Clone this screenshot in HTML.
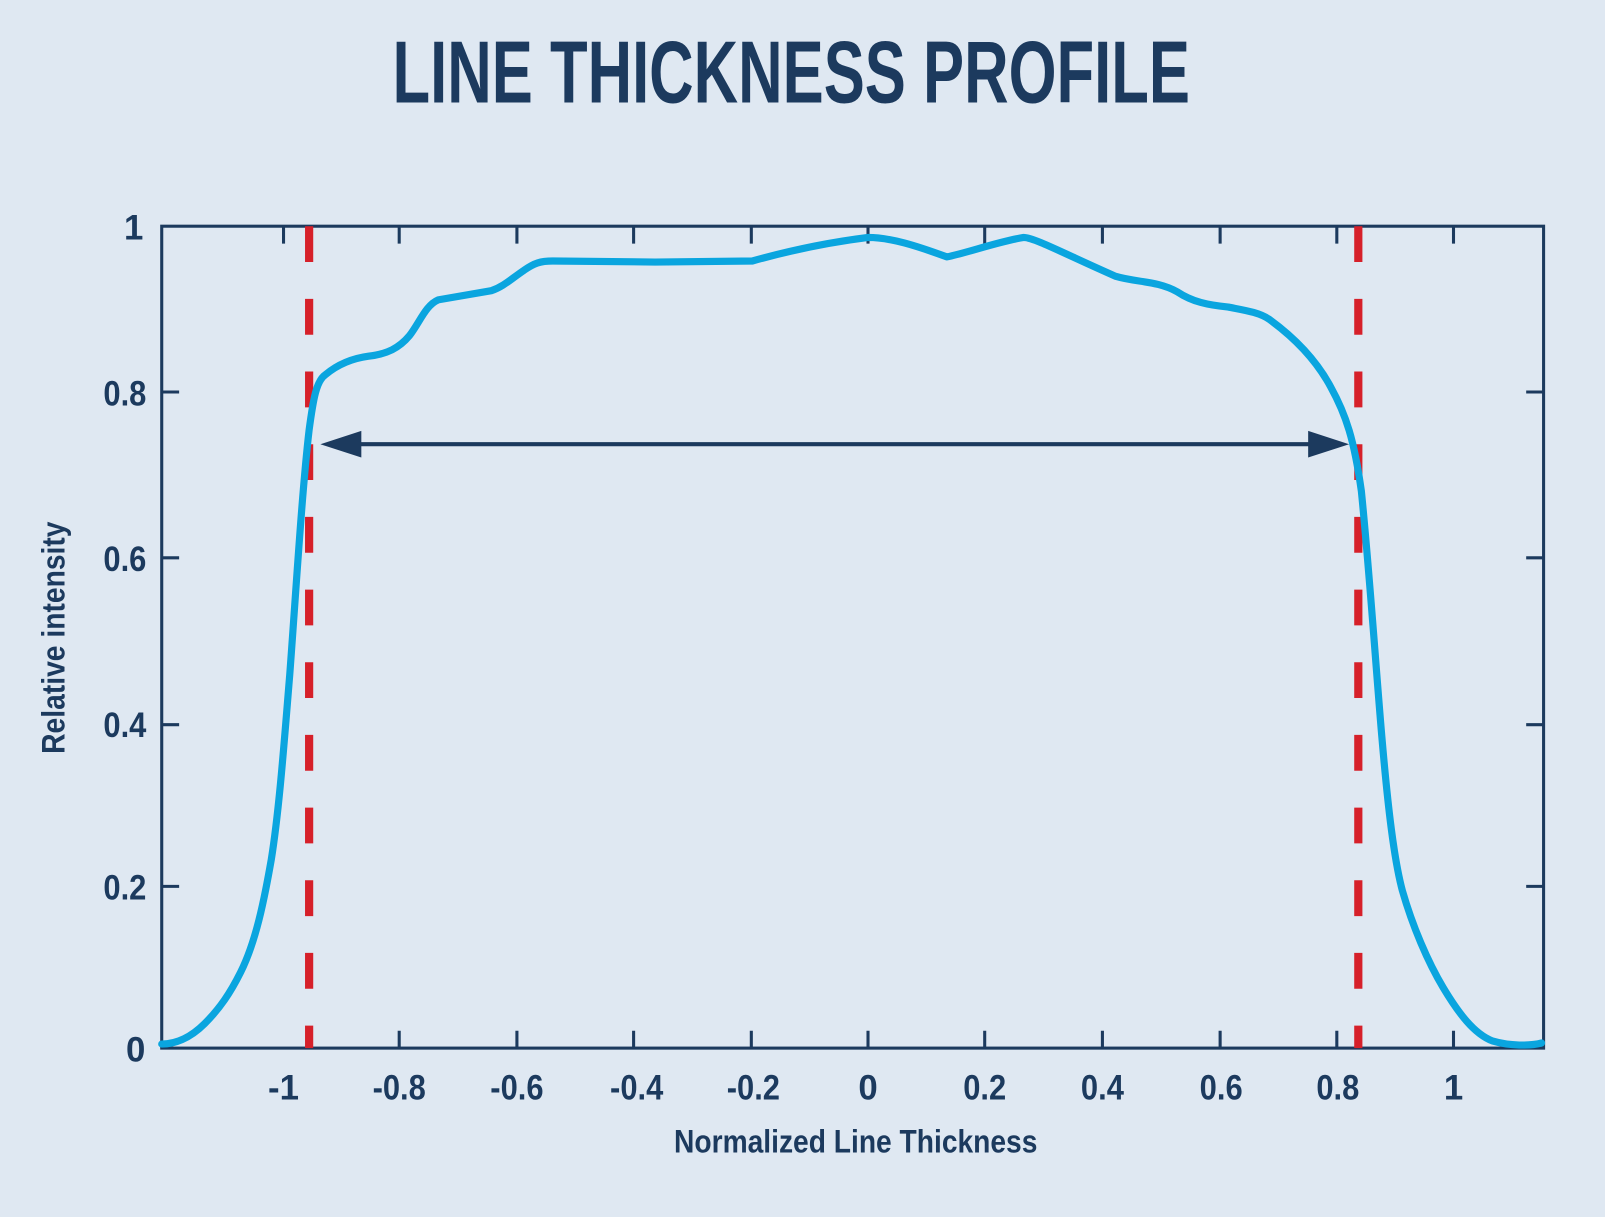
<!DOCTYPE html>
<html><head><meta charset="utf-8"><style>
html,body{margin:0;padding:0;background:#dfe8f2;}
svg{display:block}
text{font-family:"Liberation Sans",sans-serif;font-weight:bold;fill:#1c3a5e}
</style></head><body>
<svg width="1605" height="1217" viewBox="0 0 1568 1189" preserveAspectRatio="none">
<rect width="1568" height="1189" fill="#dfe8f2"/>
<text x="773" y="100" font-size="86" text-anchor="middle" textLength="779" lengthAdjust="spacingAndGlyphs">LINE THICKNESS PROFILE</text>
<rect x="158" y="221" width="1350" height="803" fill="none" stroke="#1c3a5e" stroke-width="3"/>
<g stroke="#1c3a5e" stroke-width="3">
<path d="M390 1024v-17M505 1024v-17M619 1024v-17M734 1024v-17M848 1024v-17M962 1024v-17M1077 1024v-17M1192 1024v-17M1306 1024v-17M1420 1024v-17"/>
<path d="M390 221v17M505 221v17M619 221v17M734 221v17M848 221v17M962 221v17M1077 221v17M1192 221v17M1306 221v17M1420 221v17M277 221v17"/>
<path d="M158 383h17M158 545h17M158 708h17M158 866h17M1508 383h-17M1508 545h-17M1508 708h-17M1508 866h-17"/>
</g>
<g font-size="34" text-anchor="end">
<text x="142" y="1037">0</text>
<text x="143" y="879" textLength="42" lengthAdjust="spacingAndGlyphs">0.2</text>
<text x="143" y="720" textLength="42" lengthAdjust="spacingAndGlyphs">0.4</text>
<text x="143" y="558" textLength="42" lengthAdjust="spacingAndGlyphs">0.6</text>
<text x="143" y="396" textLength="42" lengthAdjust="spacingAndGlyphs">0.8</text>
<text x="140" y="234">1</text>
</g>
<g font-size="34" text-anchor="middle">
<text x="277" y="1074">-1</text>
<text x="390" y="1074" textLength="52" lengthAdjust="spacingAndGlyphs">-0.8</text>
<text x="505" y="1074" textLength="52" lengthAdjust="spacingAndGlyphs">-0.6</text>
<text x="622" y="1074" textLength="52" lengthAdjust="spacingAndGlyphs">-0.4</text>
<text x="736" y="1074" textLength="52" lengthAdjust="spacingAndGlyphs">-0.2</text>
<text x="848" y="1074">0</text>
<text x="962" y="1074" textLength="42" lengthAdjust="spacingAndGlyphs">0.2</text>
<text x="1077" y="1074" textLength="42" lengthAdjust="spacingAndGlyphs">0.4</text>
<text x="1193" y="1074" textLength="42" lengthAdjust="spacingAndGlyphs">0.6</text>
<text x="1307" y="1074" textLength="42" lengthAdjust="spacingAndGlyphs">0.8</text>
<text x="1420" y="1074">1</text>
</g>
<text x="836" y="1126" font-size="32" text-anchor="middle" textLength="355" lengthAdjust="spacingAndGlyphs">Normalized Line Thickness</text>
<text transform="translate(63,623) rotate(-90)" font-size="32" text-anchor="middle" textLength="227" lengthAdjust="spacingAndGlyphs">Relative intensity</text>
<path d="M302 221V1024M1327 221V1024" stroke="#d6202a" stroke-width="8" stroke-dasharray="35 36"/>
<path fill="none" stroke="#0aa5df" stroke-width="7" stroke-linejoin="round" stroke-linecap="round"
d="M158 1020 C170 1020 185 1015 200 1000 C215 985 225 970 235 950 C250 920 258 880 265 840 C273 790 278 720 283 660 C289 580 295 480 302 420 C306 390 309 372 318 366 C330 356 345 350 360 348 C378 346 390 340 400 328 C410 315 416 298 428 293 L480 284 C492 280 500 272 512 264 C522 257 528 255 540 255 L640 256 L735 255 C760 248 800 238 848 232 C870 232 895 240 925 251 C945 247 975 236 1000 232 C1010 232 1040 248 1090 270 C1110 276 1130 274 1150 285 C1165 295 1180 298 1200 300 C1215 303 1230 305 1240 312 C1262 328 1285 350 1300 378 C1315 405 1323 430 1330 480 C1338 560 1344 650 1350 720 C1356 790 1362 840 1370 870 C1380 905 1395 940 1410 965 C1425 990 1440 1010 1458 1017 C1475 1022 1495 1022 1506 1019"/>
<path d="M350 434H1280" stroke="#1c3a5e" stroke-width="4"/>
<path d="M313 434L353 421L353 447Z M1318 434L1278 421L1278 447Z" fill="#1c3a5e"/>
</svg>
</body></html>
